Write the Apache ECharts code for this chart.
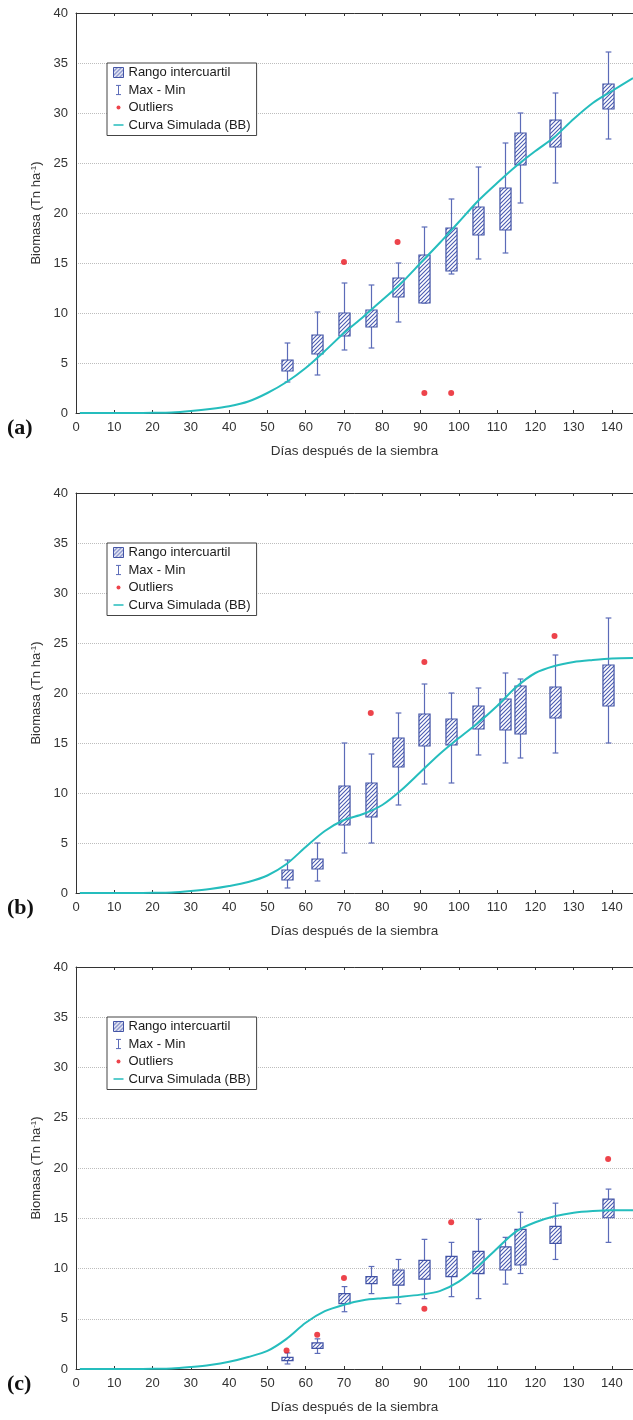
<!DOCTYPE html>
<html>
<head>
<meta charset="utf-8">
<title>Biomasa</title>
<script src="https://cdn.jsdelivr.net/npm/echarts@6/dist/echarts.min.js"></script>
<style>
  html, body { margin: 0; padding: 0; background: #fff; }
  #chart { width: 633px; height: 1420px; }
</style>
</head>
<body>
<div id="chart"></div>
<script>
// Sampling days (days after sowing)
const boxDays = [55, 63, 70, 77, 84, 91, 98, 105, 112, 116, 125, 139];

// Box statistics per sampling day: [min, Q1, Q3, max]  (Tn ha-1)
const boxA = [
  [3.1, 4.2, 5.3, 7.0],
  [3.8, 5.9, 7.8, 10.1],
  [6.3, 7.7, 10.0, 13.0],
  [6.5, 8.6, 10.3, 12.8],
  [9.1, 11.6, 13.5, 15.0],
  [11.0, 11.0, 15.8, 18.6],
  [13.9, 14.2, 18.5, 21.4],
  [15.4, 17.8, 20.6, 24.6],
  [16.0, 18.3, 22.5, 27.0],
  [21.0, 24.8, 28.0, 30.0],
  [23.0, 26.6, 29.3, 32.0],
  [27.4, 30.4, 32.9, 36.1]
];
const boxB = [
  [0.5, 1.3, 2.3, 3.3],
  [1.2, 2.4, 3.4, 5.0],
  [4.0, 6.8, 10.7, 15.0],
  [5.0, 7.6, 11.0, 13.9],
  [8.8, 12.6, 15.5, 18.0],
  [10.9, 14.7, 17.9, 20.9],
  [11.0, 14.8, 17.4, 20.0],
  [13.8, 16.4, 18.7, 20.5],
  [13.0, 16.3, 19.4, 22.0],
  [13.5, 15.9, 20.7, 21.4],
  [14.0, 17.5, 20.6, 23.8],
  [15.0, 18.7, 22.8, 27.5]
];
const boxC = [
  [0.5, 0.83, 1.15, 1.6],
  [1.55, 2.05, 2.6, 3.0],
  [5.7, 6.5, 7.5, 8.2],
  [7.5, 8.5, 9.2, 10.2],
  [6.5, 8.35, 9.85, 10.9],
  [7.0, 8.95, 10.8, 12.9],
  [7.2, 9.2, 11.2, 12.6],
  [7.0, 9.5, 11.7, 14.9],
  [8.45, 9.85, 12.15, 13.1],
  [9.5, 10.35, 13.9, 15.6],
  [10.9, 12.5, 14.2, 16.5],
  [12.6, 15.05, 16.9, 17.9]
];

// Outliers: [day, biomass]
const outliersA = [[70, 15.1], [84, 17.1], [91, 2.0], [98, 2.0]];
const outliersB = [[77, 18.0], [91, 23.1], [125, 25.7]];
const outliersC = [[55, 1.85], [63, 3.4], [70, 9.05], [91, 6.0], [98, 14.6], [139, 20.9]];

// Simulated growth curve (BB)
const curveDays = [1, 5, 10, 15, 20, 25, 30, 35, 40, 45, 50, 55, 60, 65, 70, 75,
                   80, 85, 90, 95, 100, 105, 110, 115, 120, 125, 130, 135, 140, 145.5];
const curveA = [0, 0, 0, 0, 0.02, 0.06, 0.2, 0.4, 0.68, 1.15, 2.0, 3.1, 4.5, 6.2, 8.0, 9.6,
                11.3, 13.0, 15.0, 17.0, 19.1, 21.2, 23.0, 24.7, 26.2, 27.6, 29.4, 31.0, 32.2, 33.5];
const curveB = [0, 0, 0, 0, 0.02, 0.06, 0.2, 0.4, 0.7, 1.1, 1.75, 2.9, 4.6, 6.2, 7.3, 7.9,
                8.8, 10.3, 12.1, 13.9, 15.5, 17.0, 18.7, 20.6, 22.0, 22.7, 23.1, 23.3, 23.45, 23.5];
const curveC = [0, 0, 0, 0, 0.02, 0.05, 0.2, 0.4, 0.72, 1.2, 1.8, 3.0, 4.6, 5.75, 6.4, 6.85,
                7.05, 7.2, 7.4, 7.75, 8.7, 10.2, 12.0, 13.7, 14.6, 15.2, 15.55, 15.72, 15.8, 15.8];

const panelLabels = ['(a)', '(b)', '(c)'];
const legendNames = ['Rango intercuartil', 'Max - Min', 'Outliers', 'Curva Simulada (BB)'];

const FONT = 'Liberation Sans, Arial, sans-serif';
const AXIS = '#333';
const BOX = '#4354a6';
const WHISKER = '#5b6bb8';
const CURVE = '#25bdbd';
const OUTLIER = '#e8141e';

// Diagonal hatch used to fill the interquartile boxes
function makeHatch() {
  const c = document.createElement('canvas');
  c.width = 4; c.height = 4;
  const ctx = c.getContext('2d');
  ctx.fillStyle = '#ffffff';
  ctx.fillRect(0, 0, 4, 4);
  ctx.strokeStyle = '#4a5bb0';
  ctx.lineWidth = 1.1;
  ctx.beginPath();
  ctx.moveTo(0, 4); ctx.lineTo(4, 0);
  ctx.moveTo(-1, 1); ctx.lineTo(1, -1);
  ctx.moveTo(3, 5); ctx.lineTo(5, 3);
  ctx.stroke();
  return { image: c, repeat: 'repeat' };
}
const hatch = makeHatch();

function renderBox(params, api) {
  const d = api.value(0);
  const lo = api.coord([d, api.value(1)]);
  const q1 = api.coord([d, api.value(2)]);
  const q3 = api.coord([d, api.value(3)]);
  const hi = api.coord([d, api.value(4)]);
  const boxW = api.size([2.9, 0])[0];
  const capW = api.size([1.5, 0])[0];
  const x = Math.round(lo[0]) + 0.5;
  const ws = { stroke: WHISKER, lineWidth: 1.2 };
  return {
    type: 'group',
    children: [
      { type: 'line', shape: { x1: x, y1: hi[1], x2: x, y2: q3[1] }, style: ws },
      { type: 'line', shape: { x1: x, y1: q1[1], x2: x, y2: lo[1] }, style: ws },
      { type: 'line', shape: { x1: x - capW / 2, y1: hi[1], x2: x + capW / 2, y2: hi[1] }, style: ws },
      { type: 'line', shape: { x1: x - capW / 2, y1: lo[1], x2: x + capW / 2, y2: lo[1] }, style: ws },
      { type: 'rect',
        shape: { x: x - boxW / 2, y: q3[1], width: boxW, height: q1[1] - q3[1] },
        style: { fill: hatch, stroke: BOX, lineWidth: 1.2 } }
    ]
  };
}

const grids = [
  { left: 76, top: 13, width: 557, height: 400 },
  { left: 76, top: 493, width: 557, height: 400 },
  { left: 76, top: 967, width: 557, height: 402 }
];
const panels = [
  { box: boxA, out: outliersA, curve: curveA },
  { box: boxB, out: outliersB, curve: curveB },
  { box: boxC, out: outliersC, curve: curveC }
];

const xAxis = [], yAxis = [], series = [], legend = [], title = [];

grids.forEach((g, i) => {
  xAxis.push({
    type: 'value', gridIndex: i, min: 0, max: 145.5, interval: 10,
    name: 'Días después de la siembra', nameLocation: 'middle', nameGap: 31,
    nameTextStyle: { fontFamily: FONT, fontSize: 13.5, color: AXIS },
    axisLine: { show: true, lineStyle: { color: AXIS, width: 1 } },
    axisTick: { show: true, inside: true, length: 3, lineStyle: { color: AXIS } },
    axisLabel: { fontFamily: FONT, fontSize: 13, color: AXIS, margin: 8, showMaxLabel: false },
    splitLine: { show: false }
  });
  xAxis.push({
    type: 'value', gridIndex: i, position: 'top', min: 0, max: 145.5, interval: 10,
    axisLine: { show: true, lineStyle: { color: AXIS, width: 1 } },
    axisTick: { show: true, inside: true, length: 3, lineStyle: { color: AXIS } },
    axisLabel: { show: false },
    splitLine: { show: false }
  });
  yAxis.push({
    type: 'value', gridIndex: i, min: 0, max: 40, interval: 5,
    name: 'Biomasa (Tn ha{sup|-1})', nameLocation: 'middle', nameGap: 27,
    nameTextStyle: {
      fontFamily: FONT, fontSize: 13, color: AXIS,
      rich: { sup: { fontFamily: FONT, fontSize: 8, color: AXIS, verticalAlign: 'top' } }
    },
    axisLine: { show: true, lineStyle: { color: AXIS, width: 1 } },
    axisTick: { show: false },
    axisLabel: { fontFamily: FONT, fontSize: 13, color: AXIS, margin: 8 },
    splitLine: { show: true, lineStyle: { color: '#bdbdbd', type: 'dotted', width: 1 } }
  });

  const p = panels[i];
  series.push({
    name: 'Rango intercuartil', type: 'custom', xAxisIndex: 2 * i, yAxisIndex: i,
    renderItem: renderBox, z: 2,
    itemStyle: { color: BOX },
    encode: { x: 0, y: [1, 2, 3, 4] },
    data: boxDays.map((d, k) => [d].concat(p.box[k]))
  });
  series.push({
    name: 'Max - Min', type: 'custom', xAxisIndex: 2 * i, yAxisIndex: i,
    renderItem: () => null, itemStyle: { color: WHISKER }, data: []
  });
  series.push({
    name: 'Curva Simulada (BB)', type: 'line', xAxisIndex: 2 * i, yAxisIndex: i,
    smooth: 0.3, showSymbol: false, symbol: 'none', z: 3,
    lineStyle: { color: CURVE, width: 2 },
    itemStyle: { color: CURVE },
    data: curveDays.map((d, k) => [d, p.curve[k]])
  });
  series.push({
    name: 'Outliers', type: 'scatter', xAxisIndex: 2 * i, yAxisIndex: i,
    symbol: 'circle', symbolSize: 6, z: 4,
    itemStyle: { color: OUTLIER },
    data: p.out
  });

  legend.push({
    orient: 'vertical', left: 107, top: g.top + 50,
    padding: [3, 6, 3, 4], itemGap: 3.5, itemWidth: 10, itemHeight: 10,
    borderColor: '#444', borderWidth: 1, backgroundColor: '#fff',
    selectedMode: false,
    textStyle: { fontFamily: FONT, fontSize: 13, color: '#1a1a1a' },
    data: [
      { name: legendNames[0], icon: 'rect',
        itemStyle: { color: hatch, borderColor: BOX, borderWidth: 1 } },
      { name: legendNames[1], icon: 'path://M0,0M10,12M2,0.5H8M5,0.5V11.5M2,11.5H8',
        itemStyle: { color: 'none', borderColor: WHISKER, borderWidth: 1 } },
      { name: legendNames[2], icon: 'path://M0,0M10,10M3,5a2,2 0 1,0 4,0a2,2 0 1,0 -4,0',
        itemStyle: { color: OUTLIER, borderWidth: 0 } },
      { name: legendNames[3], icon: 'path://M0,0M10,10M0,5H10',
        itemStyle: { color: 'none', borderColor: CURVE, borderWidth: 1.5 } }
    ]
  });

  title.push({
    text: panelLabels[i], left: 7, top: g.top + g.height + 4, padding: 0,
    textStyle: { fontFamily: 'Liberation Serif, Times New Roman, serif',
                 fontWeight: 'bold', fontSize: 22, color: '#111' }
  });
});

const chart = echarts.init(document.getElementById('chart'), null, { renderer: 'canvas' });
chart.setOption({
  animation: false,
  backgroundColor: '#fff',
  title, grid: grids, xAxis, yAxis, legend, series
});
</script>
</body>
</html>
